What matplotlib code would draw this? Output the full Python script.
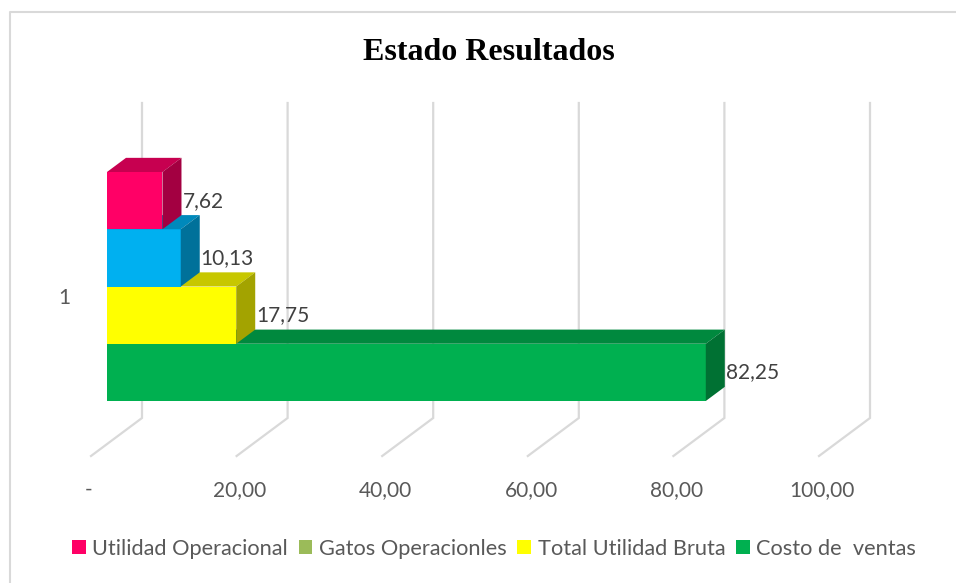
import matplotlib
matplotlib.use('Agg')
import matplotlib.pyplot as plt
from matplotlib.patches import Polygon, Patch
from matplotlib.lines import Line2D

# Data
series = ['Utilidad Operacional', 'Gatos Operacionles', 'Total Utilidad Bruta', 'Costo de  ventas']
values = [7.62, 10.13, 17.75, 82.25]
value_labels = ['7,62', '10,13', '17,75', '82,25']
bar_colors = ['#FF0066', '#00B0F0', '#FFFF00', '#00B050']
legend_colors = ['#FF0066', '#9BBB59', '#FFFF00', '#00B050']
ticks = [0, 20, 40, 60, 80, 100]
tick_labels = ['-', '20,00', '40,00', '60,00', '80,00', '100,00']
category = '1'
title = 'Estado Resultados'

W, H = 956, 583
TXT = '#595959'
GRID = '#D9D9D9'
FS = 15

# oblique 3D frame (x in value units, y in pixels from top)
X0 = 91.0          # pixel where value 0 sits on the front floor edge
SX = 7.28          # pixels per value unit
DX = 51.0 / SX     # full depth shift in value units
DY = 38.0          # full depth shift in pixels (upwards)
FLOOR = 456.0
WALL_TOP = 141.0
D0, D1 = 16 / 51, 35 / 51   # bar depth span
BAR_BOTTOM = 401.0
BAR_H = 57.25


def proj(v, y, d):
    return v + d * DX, y - d * DY


def shade(c, f):
    r, g, b = matplotlib.colors.to_rgb(c)
    return (r * f, g * f, b * f)


fig = plt.figure(figsize=(W / 100, H / 100), dpi=100)
ax = fig.add_axes([0, 0, 1, 1])
ax.set_xlim(-X0 / SX, (W - X0) / SX)
ax.set_ylim(H, 0)
ax.axis('off')

# chart area border (left and top visible)
fig.add_artist(Line2D([10 / W, 10 / W, 1.0], [0, 1 - 12 / H, 1 - 12 / H],
                      transform=fig.transFigure, color=GRID, lw=1.5))

# back wall gridlines + floor lines
for t in ticks:
    pts = [proj(t, FLOOR, 0), proj(t, FLOOR, 1), proj(t, WALL_TOP, 1)]
    ax.plot([p[0] for p in pts], [p[1] for p in pts], color=GRID, lw=1.6,
            solid_joinstyle='miter', zorder=1)

# bars stacked from bottom: last series at the bottom
ddx = (D1 - D0) * DX
ddy = (D1 - D0) * DY
left = D0 * DX
n = len(values)
for i in range(n - 1, -1, -1):
    level = n - 1 - i
    yb = BAR_BOTTOM - level * BAR_H
    yt = yb - BAR_H
    v = values[i]
    c = bar_colors[i]
    ax.barh((yb + yt) / 2, v, height=BAR_H, left=left, color=c, lw=0, zorder=3)
    xr = left + v
    top = Polygon([(left, yt), (left + ddx, yt - ddy), (xr + ddx, yt - ddy), (xr, yt)],
                  closed=True, facecolor=shade(c, 0.78), lw=0, zorder=3)
    side = Polygon([(xr, yt), (xr + ddx, yt - ddy), (xr + ddx, yb - ddy), (xr, yb)],
                   closed=True, facecolor=shade(c, 0.64), lw=0, zorder=3)
    ax.add_patch(top)
    ax.add_patch(side)
    ax.text(xr + ddx + 1 / SX, (yb + yt) / 2, value_labels[i], fontsize=FS,
            family='Lato', color='#404040', ha='left', va='center', zorder=4)

# category label
ax.text((64 - X0) / SX, 298, category, fontsize=FS, family='Lato', color=TXT,
        ha='center', va='center')

# value axis labels
for t, lab in zip(ticks, tick_labels):
    off = -0.4 if lab == '-' else 0.45
    ax.text(t + off, 490, lab, fontsize=FS, family='Lato', color=TXT,
            ha='center', va='center')

fig.text(489 / W, 1 - 52 / H, title, fontsize=23, family='Liberation Serif',
         fontweight='bold', ha='center', va='center', color='black')

handles = [Patch(facecolor=c, edgecolor='none') for c in legend_colors]
fig.legend(handles, series, loc='center', bbox_to_anchor=(494 / W, 1 - 549 / H),
           ncol=4, frameon=False, prop={'family': 'Lato', 'size': 15.7},
           labelcolor=TXT, handlelength=0.62, handleheight=0.62,
           handletextpad=0.3, columnspacing=0.5)

fig.savefig('out.png', dpi=100)
